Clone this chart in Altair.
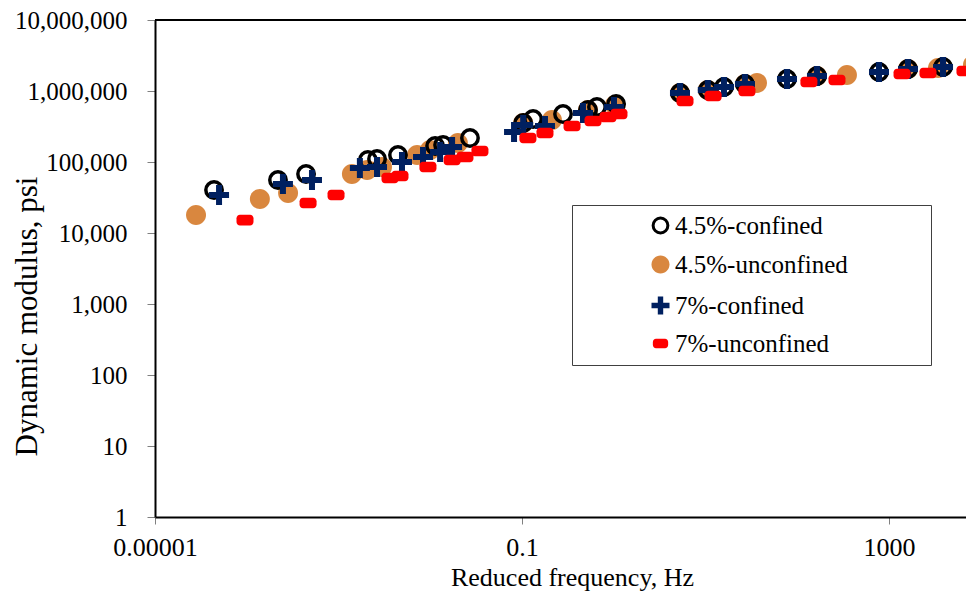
import altair as alt
import pandas as pd

# ---------------- data ----------------
series_names = ["4.5%-confined", "4.5%-unconfined", "7%-confined", "7%-unconfined"]

c45_x = [4.4e-5, 2.19e-4, 4.43e-4, 2.09e-3, 2.63e-3, 4.45e-3, 0.0113, 0.0138, 0.0271,
         0.103, 0.132, 0.28, 0.524, 0.656, 1.06, 5.27, 10.6, 15.9, 26.9, 77.3, 164,
         778, 1611, 3880]
c45_y = [40400, 55800, 67800, 106700, 110000, 125600, 168000, 173500, 217700,
         354000, 403600, 474000, 540000, 596000, 656000, 937000, 1032000, 1137000,
         1256000, 1476000, 1626000, 1854000, 2042000, 2177000]

u45_x = [2.80e-5, 1.39e-4, 2.82e-4, 1.40e-3, 2.05e-3, 2.98e-3, 7.18e-3, 9.94e-3, 0.020,
         0.103, 0.212, 0.524, 1.03, 5.27, 10.6, 26.9, 36.4, 164, 348, 1611, 3420, 8220]
u45_y = [17900, 30100, 36600, 67800, 77100, 85200, 125600, 147600, 185500,
         354000, 391000, 540000, 635000, 937000, 1032000, 1256000, 1297000, 1626000,
         1679000, 2042000, 2109000, 2324000]

c7_x = [4.99e-5, 2.48e-4, 5.14e-4, 1.71e-3, 2.63e-3, 4.92e-3, 8.34e-3, 0.0128, 0.0173,
        0.0819, 0.103, 0.178, 0.462, 1.006, 5.27, 10.6, 15.9, 26.9, 77.3, 164, 778,
        1611, 3880]
c7_y = [34300, 49000, 55800, 82300, 85200, 100000, 117500, 138400, 162600,
        265000, 332000, 321000, 490000, 596000, 937000, 1032000, 1137000, 1256000,
        1476000, 1626000, 1854000, 2042000, 2177000]

u7_x = [9.57e-5, 4.66e-4, 9.40e-4, 3.64e-3, 4.68e-3, 9.44e-3, 0.0173, 0.0239, 0.0348,
        0.116, 0.178, 0.351, 0.594, 0.865, 1.14, 5.98, 12.1, 28.3, 134, 271, 1387,
        2661, 6730]
u7_y = [15200, 26500, 34300, 59600, 63500, 85200, 106700, 117500, 142900,
        217700, 255700, 321000, 377600, 430700, 474000, 722000, 852000, 1000000,
        1340000, 1429000, 1733000, 1795000, 1915000]

x_ticks = [1e-5, 0.1, 1000]
y_ticks = [1, 10, 100, 1000, 10000, 100000, 1000000, 10000000]

# ---------------- build table (draw order: orange, ring, plus, dash) ----------------
rows = []
for name, xs, ys in [(series_names[1], u45_x, u45_y),
                     (series_names[0], c45_x, c45_y),
                     (series_names[2], c7_x, c7_y),
                     (series_names[3], u7_x, u7_y)]:
    for xv, yv in zip(xs, ys):
        rows.append({"series": name, "freq": xv, "modulus": yv})
df = pd.DataFrame(rows)

# ---------------- styling ----------------
FONT = "Liberation Serif"
ORANGE = "#D9873F"
NAVY = "#002060"
RED = "#FF0000"

ring_path = "M-0.82,0A0.82,0.82 0 1,0 0.82,0A0.82,0.82 0 1,0 -0.82,0Z"
disc_path = "M-1,0A1,1 0 1,0 1,0A1,1 0 1,0 -1,0Z"
plus_path = "M-1,-0.3H-0.3V-1H0.3V-0.3H1V0.3H0.3V1H-0.3V0.3H-1Z"
dash_path = ("M-0.5,-0.53H0.5A0.35,0.35 0 0 1 0.85,-0.18V0.18A0.35,0.35 0 0 1 0.5,0.53"
             "H-0.5A0.35,0.35 0 0 1 -0.85,0.18V-0.18A0.35,0.35 0 0 1 -0.5,-0.53Z")

PLOT_W = 811
PLOT_H = 497
X_MAX = 10 ** (-5 + PLOT_W / 91.75)

legend = alt.Legend(
    orient="none", legendX=417, legendY=185,
    title="\u00a0", titleOrient="right", titlePadding=75, titleFontSize=25,
    strokeColor="#404040", padding=8, rowPadding=10,
    labelFont=FONT, labelFontSize=25, labelColor="black",
    symbolOffset=68, labelOffset=2, labelLimit=600,
    symbolSize=324, symbolStrokeWidth=3,
)

points = alt.Chart(df).mark_point(size=400, strokeWidth=3.5, opacity=1, clip=True).encode(
    x=alt.X("freq:Q",
            scale=alt.Scale(type="log", domain=[1e-5, X_MAX], nice=False),
            axis=alt.Axis(values=x_ticks, format="~g", title="Reduced frequency, Hz",
                          grid=False, domainColor="black", domainWidth=2,
                          tickColor="#808080", tickSize=7, tickWidth=1,
                          labelFont=FONT, labelFontSize=26, labelColor="black",
                          labelPadding=10, labelFlush=False,
                          titleFont=FONT, titleFontSize=26, titleFontWeight="normal",
                          titleColor="black", titleX=417, titleY=60,
                          titleBaseline="middle")),
    y=alt.Y("modulus:Q",
            scale=alt.Scale(type="log", domain=[1, 1e7], nice=False),
            axis=alt.Axis(values=y_ticks, format=",.0f", title="Dynamic modulus, psi",
                          grid=False, domainColor="black", domainWidth=2,
                          tickColor="#808080", tickSize=8, tickWidth=1,
                          labelFont=FONT, labelFontSize=25, labelColor="black",
                          labelPadding=20, labelFlush=False,
                          titleFont=FONT, titleFontSize=31, titleFontWeight="normal",
                          titleColor="black", titleAngle=270, titleX=-128,
                          titleY=296, titleBaseline="middle", titleAlign="center")),
    fill=alt.Fill("series:N", title="\u00a0",
                  scale=alt.Scale(domain=series_names,
                                  range=["transparent", ORANGE, NAVY, RED]),
                  legend=legend),
    stroke=alt.Stroke("series:N", title="\u00a0",
                      scale=alt.Scale(domain=series_names,
                                      range=["black", "transparent", "transparent", "transparent"]),
                      legend=legend),
    shape=alt.Shape("series:N", title="\u00a0",
                    scale=alt.Scale(domain=series_names,
                                    range=[ring_path, disc_path, plus_path, dash_path]),
                    legend=legend),
)

# top border of the plot frame at the top of the y range
top_rule = alt.Chart(df).mark_rule(color="black", strokeWidth=2).encode(
    y=alt.datum(y_ticks[-1])
)

chart = alt.layer(points, top_rule).properties(
    width=PLOT_W, height=PLOT_H,
    autosize=alt.AutoSizeParams(type="none"),
    padding={"left": 147, "top": 12, "right": 0, "bottom": 75},
).configure_view(stroke=None)

chart.save("out.html", embed_options={"renderer": "svg", "actions": False})
